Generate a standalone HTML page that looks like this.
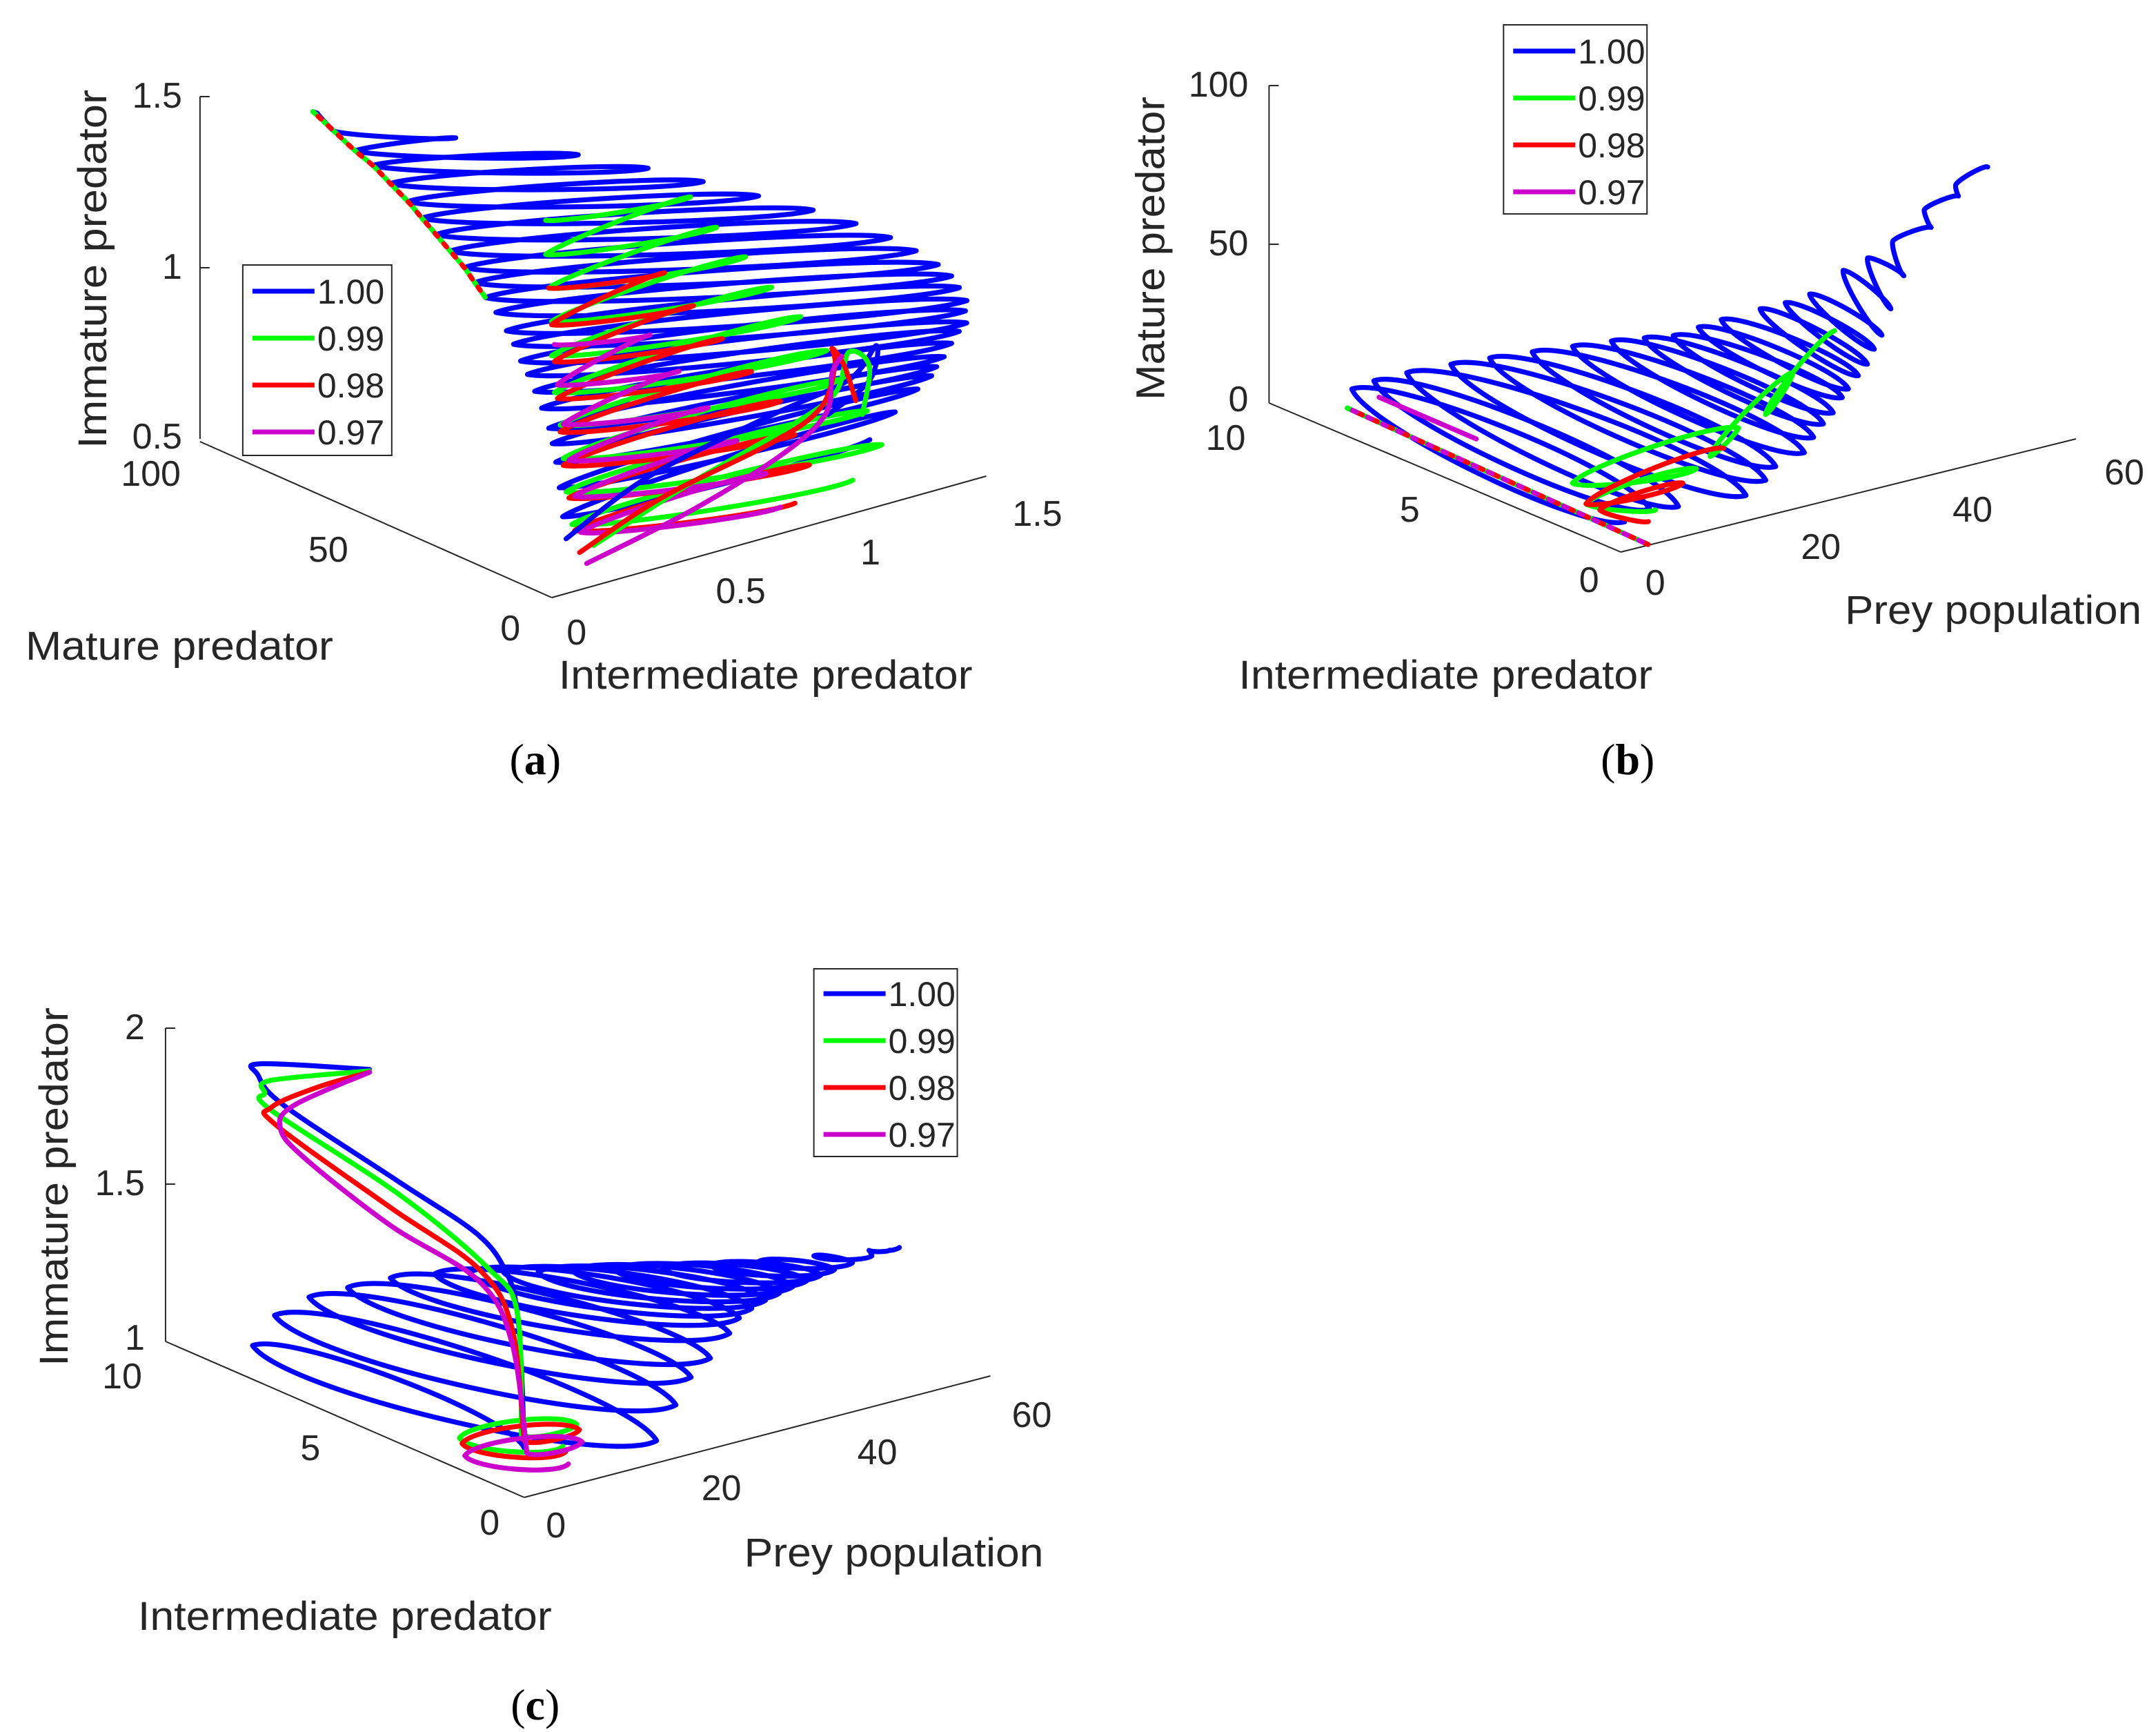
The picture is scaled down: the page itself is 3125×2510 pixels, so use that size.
<!DOCTYPE html>
<html><head><meta charset="utf-8"><style>
html,body{margin:0;padding:0;background:#fff}
svg{display:block}
text{font-family:"Liberation Sans",sans-serif;fill:#262626}
.t{font-size:26px}
.lg{font-size:25px}
.l{font-size:29px}
.c{font-family:"Liberation Serif",serif;font-size:32px;fill:#000}
</style></head><body>
<svg id="fig" xmlns="http://www.w3.org/2000/svg" width="3125" height="2510" viewBox="0 0 1563 1255" preserveAspectRatio="none">
<rect x="0" y="0" width="1563" height="1255" fill="#fff"/>
<g stroke="#262626" stroke-width="1" fill="none">
<line x1="145" y1="70" x2="145" y2="318"/><line x1="145" y1="70" x2="152" y2="70"/><line x1="145" y1="194" x2="152" y2="194"/>
<line x1="145" y1="320" x2="400" y2="433"/><line x1="400" y1="433" x2="715" y2="345"/>
</g>
<text class="t" x="132" y="78" text-anchor="end">1.5</text>
<text class="t" x="132" y="202" text-anchor="end">1</text>
<text class="t" x="132" y="325" text-anchor="end">0.5</text>
<text class="t" x="131" y="352" text-anchor="end">100</text>
<text class="t" x="238" y="407" text-anchor="middle">50</text>
<text class="t" x="370" y="464" text-anchor="middle">0</text>
<text class="t" x="418" y="467" text-anchor="middle">0</text>
<text class="t" x="537" y="437" text-anchor="middle">0.5</text>
<text class="t" x="631" y="409" text-anchor="middle">1</text>
<text class="t" x="752" y="381" text-anchor="middle">1.5</text>
<text class="l" transform="translate(77,195) rotate(-90)" text-anchor="middle" textLength="260" lengthAdjust="spacingAndGlyphs">Immature predator</text>
<text class="l" x="130" y="478" text-anchor="middle" textLength="223" lengthAdjust="spacingAndGlyphs">Mature predator</text>
<text class="l" x="555" y="499" text-anchor="middle" textLength="300" lengthAdjust="spacingAndGlyphs">Intermediate predator</text>
<text class="c" x="388" y="561" text-anchor="middle">(<tspan font-weight="bold">a</tspan>)</text>
<g stroke="#262626" stroke-width="1" fill="none">
<line x1="920" y1="62" x2="920" y2="292"/><line x1="920" y1="62" x2="927" y2="62"/><line x1="920" y1="177" x2="927" y2="177"/>
<line x1="920" y1="292" x2="1175" y2="400"/><line x1="1175" y1="400" x2="1505" y2="318"/>
</g>
<text class="t" x="905" y="70" text-anchor="end">100</text>
<text class="t" x="905" y="185" text-anchor="end">50</text>
<text class="t" x="905" y="298" text-anchor="end">0</text>
<text class="t" x="903" y="326" text-anchor="end">10</text>
<text class="t" x="1022" y="378" text-anchor="middle">5</text>
<text class="t" x="1152" y="429" text-anchor="middle">0</text>
<text class="t" x="1200" y="431" text-anchor="middle">0</text>
<text class="t" x="1320" y="405" text-anchor="middle">20</text>
<text class="t" x="1430" y="378" text-anchor="middle">40</text>
<text class="t" x="1540" y="351" text-anchor="middle">60</text>
<text class="l" transform="translate(844,180) rotate(-90)" text-anchor="middle" textLength="220" lengthAdjust="spacingAndGlyphs">Mature predator</text>
<text class="l" x="1048" y="499" text-anchor="middle" textLength="300" lengthAdjust="spacingAndGlyphs">Intermediate predator</text>
<text class="l" x="1445" y="452" text-anchor="middle" textLength="215" lengthAdjust="spacingAndGlyphs">Prey population</text>
<text class="c" x="1180" y="561" text-anchor="middle">(<tspan font-weight="bold">b</tspan>)</text>
<g stroke="#262626" stroke-width="1" fill="none">
<line x1="120" y1="745" x2="120" y2="972"/><line x1="120" y1="745" x2="127" y2="745"/><line x1="120" y1="858" x2="127" y2="858"/>
<line x1="120" y1="972" x2="380" y2="1085"/><line x1="380" y1="1085" x2="718" y2="997"/>
</g>
<text class="t" x="105" y="753" text-anchor="end">2</text>
<text class="t" x="105" y="866" text-anchor="end">1.5</text>
<text class="t" x="105" y="978" text-anchor="end">1</text>
<text class="t" x="103" y="1006" text-anchor="end">10</text>
<text class="t" x="225" y="1058" text-anchor="middle">5</text>
<text class="t" x="355" y="1112" text-anchor="middle">0</text>
<text class="t" x="403" y="1114" text-anchor="middle">0</text>
<text class="t" x="523" y="1087" text-anchor="middle">20</text>
<text class="t" x="636" y="1061" text-anchor="middle">40</text>
<text class="t" x="748" y="1034" text-anchor="middle">60</text>
<text class="l" transform="translate(49,860) rotate(-90)" text-anchor="middle" textLength="260" lengthAdjust="spacingAndGlyphs">Immature predator</text>
<text class="l" x="250" y="1181" text-anchor="middle" textLength="300" lengthAdjust="spacingAndGlyphs">Intermediate predator</text>
<text class="l" x="648" y="1135" text-anchor="middle" textLength="217" lengthAdjust="spacingAndGlyphs">Prey population</text>
<text class="c" x="388" y="1246" text-anchor="middle">(<tspan font-weight="bold">c</tspan>)</text>
<g id="marks"></g>
<g id="legends"></g>
</svg>
<script>
// ---------- Panel (a) data: (I = intermediate, M = mature, Z = immature) ----------
const aBlueM = [72,66,60,55,50,45,41,37,33,29,26,23,20,17,15,13,11,9,7,5,4,3,2,1];
const aBlueZ = [1.58,1.55,1.52,1.50,1.47,1.44,1.41,1.38,1.35,1.32,1.29,1.26,1.23,1.19,1.16,1.12,1.09,1.05,1.01,0.96,0.92,0.87,0.80,0.72];
const aBlueIhi = [0.065,0.47,0.82,1.0,1.13,1.26,1.40,1.50,1.57,1.61,1.65,1.66,1.65,1.64,1.61,1.59,1.54,1.49,1.44,1.39,1.36,1.30,1.21,1.11];
const aBlueZd = [-0.008,-0.119,-0.194,-0.233,-0.25,-0.27,-0.296,-0.311,-0.32,-0.32,-0.326,-0.318,-0.306,-0.288,-0.272,-0.253,-0.227,-0.201,-0.179,-0.137,-0.112,-0.082,-0.053,-0.026];
const aGreenIlo = [0.04,0.04,0.05,0.06,0.06,0.07,0.09,0.10,0.11,0.13];
const aGreenIhi = [0.54,0.63,0.73,0.82,0.92,1.01,1.08,1.15,1.2,1.1];
const aGreenZ = [1.57,1.47,1.37,1.27,1.17,1.06,0.96,0.86,0.76,0.66];
const aGreenZd = [-0.05,-0.06,-0.07,-0.08,-0.09,-0.1,-0.1,-0.11,-0.12,-0.1];
const aRedIlo = [0.05,0.06,0.07,0.08,0.09,0.1,0.12,0.14];
const aRedIhi = [0.45,0.55,0.65,0.75,0.85,0.9,0.95,0.9];
const aRedZ = [1.37,1.26,1.15,1.04,0.94,0.84,0.74,0.64];
const aRedZd = [-0.05,-0.06,-0.07,-0.08,-0.09,-0.1,-0.1,-0.1];
const aMagIlo = [0.07,0.08,0.1,0.12,0.14,0.16];
const aMagIhi = [0.4,0.5,0.6,0.7,0.8,0.85];
const aMagZ = [1.2,1.08,0.96,0.85,0.74,0.63];
const aMagZd = [-0.05,-0.06,-0.07,-0.08,-0.09,-0.09];
const aColoredM = 5;
const aSBlueI = [0.11,0.395,0.824,1.086,1.181,1.157,1.014];
const aSBlueZ = [0.623,0.737,0.817,0.856,0.934,0.837,0.772];
const aSGreenI = [0.205,0.538,0.871,1.038,1.086,1.157,1.133];
const aSGreenZ = [0.581,0.683,0.766,0.828,0.937,0.879,0.744];
const aSRedI = [0.157,0.443,0.824,0.99,1.038,1.029,1.071,1.11];
const aSRedZ = [0.572,0.665,0.736,0.798,0.908,0.962,0.90,0.79];
const aSMagI = [0.181,0.538,0.848,1.005,1.029,1.062];
const aSMagZ = [0.534,0.602,0.690,0.774,0.89,0.931];

// ---------- Panel (b) data: (P = prey, N = intermediate, Mt = mature), loops from near origin to start ----------
const bBlueAP = [10.9,11.5,13.5,17.0,19.8,23.1,26.1,28.9,30.9,32.4,33.4,34.1,36.9,37.9,38.8,40.9,41.8,44.2,46.5,49.7,53.0];
const bBlueAN = [10,9.5,9,8.5,8,7.5,7,6.5,6,5.5,5,4.5,4,3.5,3,2.5,2,1.8,1.4,1.2,1];
const bBlueAM = [-2.1,2.5,6.2,9.1,11.8,14.1,16.4,18.8,20.9,23.1,27.5,31.8,35.9,39.6,44.1,52.7,58.4,63.2,73.6,80.5,85.1];
const bBlueBP = [1.9,5.2,9.0,17.9,20.5,21.8,25.6,26.8,28.1,29.4,30.6,31.4,32.7,33.9,34.8,35.8,37.0,38.7,42.3,45.9,49.7];
const bBlueBN = [0.3,0.3,0.3,0.3,0.3,0.3,0.3,0.3,0.3,0.3,0.3,0.3,0.3,0.3,0.3,0.3,0.3,0.3,0.3,0.3,0.3];
const bBlueBM = [7.0,9.0,7.6,5.8,9.0,12.6,14.7,18.8,22.3,25.0,29.1,31.3,34.7,37.6,41.8,45.6,53.2,62.6,75.7,83.5,90.4];
const bGreenP = [30.5,21.4,25.0,14.1,17.8,2.9,12.3,4.7,6.9];
const bGreenN = [0.5,0.5,0.5,0.5,0.5,2,0.5,2,0.5];
const bGreenM = [49.2,28.3,39.4,19.4,26.2,10.6,16.6,3,6.8];
const bRedP = [15.9,4.7,10.5,6.5,5.96];
const bRedN = [0.5,2,0.5,2,0.5];
const bRedM = [20.9,3,13.1,0,3.7];
const bMagP = [14.5,13.4];
const bMagN = [10,7];
const bMagM = [-6.8,-5.2];
const bEdgeN = [9.5,0.3];
const bEdgeP = [8,5];
const bEdgeM = [-4,-2];

// ---------- Panel (c) data: (P = prey, N = intermediate, Z = immature) ----------
const cBlueAP = [0.5,0.5,0.5,0.5,0.5,0.5,0.5,0.5,4.08,8.52,13.85,20.06,26.27,32.49,39.59,46.69];
const cBlueAN = [7.68,7.07,6.11,5.03,3.84,2.61,1.65,0.68,0.5,0.5,0.5,0.5,0.5,0.5,0.5,0.5];
const cBlueAZ = [1.099,1.226,1.332,1.416,1.506,1.58,1.632,1.681,1.667,1.643,1.613,1.577,1.546,1.518,1.49,1.462];
const cBlueBP = [19.35,21.84,23.79,26.27,28.76,30.0,31.6,33.38,35.15,36.93,38.7,40.48,42.25,44.56,47.04,49.35];
const cBlueBN = [0.5,0.5,0.5,0.5,0.5,0.5,0.5,0.5,0.5,0.5,0.5,0.5,0.5,0.5,0.5,0.5];
const cBlueBZ = [1.031,1.129,1.205,1.25,1.313,1.354,1.374,1.389,1.40,1.41,1.417,1.423,1.429,1.436,1.442,1.445];
const cBlueEnd = [50.6,0.5,1.446];
const cCurlP = 0.5;
const cBlueCurlN = [4.42,7.45,7.53,6.8,3.57,1.38,0.57,0.3,0.18,0.11];
const cBlueCurlZ = [2.143,2.01,1.97,1.909,1.824,1.765,1.678,1.572,1.385,1.15];
const cGreenN = [4.42,7.18,7.34,7.18,3.57,1.11,0.3,0.18];
const cGreenZ = [2.138,1.97,1.922,1.877,1.784,1.673,1.572,1.186];
const cRedN = [4.42,5.88,7.15,7.03,3.84,1.38,0.45,0.11];
const cRedZ = [2.134,2.013,1.886,1.836,1.731,1.658,1.516,1.172];
const cMagN = [4.42,6.53,6.91,6.26,3.84,1.38,0.45,0.03];
const cMagZ = [2.134,1.923,1.833,1.771,1.674,1.62,1.468,1.137];
const legendLabels = ["1.00","0.99","0.98","0.97"];

// ---------- projections (axis functions) ----------
function projA(I,M,Z){return [400+210*I-2.55*M, 433-58.7*I-1.13*M-248*(Z-0.5)];}
function projB(P,N,Mt){return [1175+5.5*P-25.5*N, 400-1.367*P-10.8*N-2.3*Mt];}
function projC(P,N,Z){return [380+5.633*P-26*N, 1085-1.467*P-11.3*N-227*(Z-1)];}

const COL={blue:"#0000ff",green:"#00ff00",red:"#ff0000",mag:"#cc00cc"};
const NS="http://www.w3.org/2000/svg";
const marks=document.getElementById('marks');

function loopPath(pts,f){
  let d="M"+pts[0][0].toFixed(1)+" "+pts[0][1].toFixed(1);
  for(let i=1;i<pts.length;i++){
    const a=pts[i-1],b=pts[i];const dx=b[0]-a[0],dy=b[1]-a[1];
    const L=Math.hypot(dx,dy)||1;const nx=-dy/L,ny=dx/L;const w=L*f;
    const c1=[a[0]+dx*0.1+nx*w,a[1]+dy*0.1+ny*w],c2=[b[0]-dx*0.1+nx*w,b[1]-dy*0.1+ny*w];
    d+=" C"+c1[0].toFixed(1)+" "+c1[1].toFixed(1)+" "+c2[0].toFixed(1)+" "+c2[1].toFixed(1)+" "+b[0].toFixed(1)+" "+b[1].toFixed(1);
  }
  return d;
}
function smoothPath(p){
  let d="M"+p[0][0].toFixed(1)+" "+p[0][1].toFixed(1);
  for(let i=0;i<p.length-1;i++){
    const p0=p[Math.max(i-1,0)],p1=p[i],p2=p[i+1],p3=p[Math.min(i+2,p.length-1)];
    const c1=[p1[0]+(p2[0]-p0[0])/6,p1[1]+(p2[1]-p0[1])/6],c2=[p2[0]-(p3[0]-p1[0])/6,p2[1]-(p3[1]-p1[1])/6];
    d+=" C"+c1[0].toFixed(1)+" "+c1[1].toFixed(1)+" "+c2[0].toFixed(1)+" "+c2[1].toFixed(1)+" "+p2[0].toFixed(1)+" "+p2[1].toFixed(1);
  }
  return d;
}
function addPath(d,color,name,dash,off){
  const p=document.createElementNS(NS,'path');
  p.setAttribute('d',d);p.setAttribute('fill','none');p.setAttribute('stroke',color);
  p.setAttribute('stroke-width','3.6');p.setAttribute('stroke-linejoin','round');p.setAttribute('stroke-linecap','round');
  if(dash){p.setAttribute('stroke-dasharray',dash);p.setAttribute('stroke-dashoffset',off||0);}
  
  
  marks.appendChild(p);
}

// Panel a
(function(){
  let pts=[];
  for(let k=0;k<aBlueM.length;k++){pts.push(projA(0.05,aBlueM[k],aBlueZ[k]));pts.push(projA(aBlueIhi[k],aBlueM[k],aBlueZ[k]+aBlueZd[k]));}
  addPath(loopPath(pts,0.03),COL.blue,'a-trajectory-1.00');
  function col(lo,hi,Z,Zd,c,n){let q=[];for(let k=0;k<lo.length;k++){q.push(projA(lo[k],aColoredM,Z[k]));q.push(projA(hi[k],aColoredM,Z[k]+Zd[k]));}
    addPath(loopPath(q,0.035),c,n);}
  col(aGreenIlo,aGreenIhi,aGreenZ,aGreenZd,COL.green,'a-trajectory-0.99');
  col(aRedIlo,aRedIhi,aRedZ,aRedZd,COL.red,'a-trajectory-0.98');
  col(aMagIlo,aMagIhi,aMagZ,aMagZd,COL.mag,'a-trajectory-0.97');
  let sp=[];for(let k=0;k<12;k++)sp.push(projA(0.05,aBlueM[k],aBlueZ[k]));
  addPath(smoothPath(sp),COL.green,'a-spine-0.99','4 6',0);
  addPath(smoothPath(sp),COL.red,'a-spine-0.98','3 7',5);
  function s(I,Z,c,n){addPath(smoothPath(I.map((v,i)=>projA(v,aColoredM,Z[i]))),c,n);}
  s(aSBlueI,aSBlueZ,COL.blue,'a-return-1.00');
  s(aSGreenI,aSGreenZ,COL.green,'a-return-0.99');
  s(aSRedI,aSRedZ,COL.red,'a-return-0.98');
  s(aSMagI,aSMagZ,COL.mag,'a-return-0.97');
})();
// Panel b
(function(){
  let pts=[];
  for(let k=bBlueAP.length-1;k>=0;k--){pts.push(projB(bBlueAP[k],bBlueAN[k],bBlueAM[k]));pts.push(projB(bBlueBP[k],bBlueBN[k],bBlueBM[k]));}
  addPath(loopPath(pts,0.09),COL.blue,'b-trajectory-1.00');
  addPath(loopPath(bGreenP.map((v,i)=>projB(v,bGreenN[i],bGreenM[i])),0.07),COL.green,'b-trajectory-0.99');
  addPath(loopPath(bRedP.map((v,i)=>projB(v,bRedN[i],bRedM[i])),0.07),COL.red,'b-trajectory-0.98');
  const e=bEdgeN.map((v,i)=>projB(bEdgeP[i],v,bEdgeM[i]));
  const ed="M"+e[0][0]+" "+e[0][1]+" L"+e[1][0]+" "+e[1][1];
  addPath(ed,COL.blue,'b-edge-1.00');
  addPath(ed,COL.green,'b-edge-0.99','4 8',0);
  addPath(ed,COL.red,'b-edge-0.98','4 8',4);
  addPath(ed,COL.mag,'b-edge-0.97','3 9',8);
  const m=bMagP.map((v,i)=>projB(v,bMagN[i],bMagM[i]));
  addPath("M"+m[0][0]+" "+m[0][1]+" L"+m[1][0]+" "+m[1][1],COL.mag,'b-trajectory-0.97');
})();
// Panel c
(function(){
  let pts=cBlueCurlN.map((v,i)=>projC(cCurlP,v,cBlueCurlZ[i]));
  addPath(smoothPath(pts),COL.blue,'c-curl-1.00');
  let lp=[pts[pts.length-1]];
  for(let k=0;k<cBlueAP.length;k++){lp.push(projC(cBlueAP[k],cBlueAN[k],cBlueAZ[k]));lp.push(projC(cBlueBP[k],cBlueBN[k],cBlueBZ[k]));}
  lp.push(projC(cBlueEnd[0],cBlueEnd[1],cBlueEnd[2]));
  addPath(loopPath(lp,0.09),COL.blue,'c-trajectory-1.00');
  function s(N,Z,c,n){const q=N.map((v,i)=>projC(cCurlP,v,Z[i]));addPath(smoothPath(q),c,n);
    const b=q[q.length-1];addPath(loopPath([b,[b[0]+40,b[1]-8],[b[0]-45,b[1]+2],[b[0]+30,b[1]+8]],0.12),c,n+'-loops');}
  s(cGreenN,cGreenZ,COL.green,'c-trajectory-0.99');
  s(cRedN,cRedZ,COL.red,'c-trajectory-0.98');
  s(cMagN,cMagZ,COL.mag,'c-trajectory-0.97');
})();

// Legends
const lg=document.getElementById('legends');
const legendBoxes=[[176,192,108,138,211],[1090,18,104,137,37],[590,702,104,136,720]];
const legCols=[COL.blue,COL.green,COL.red,COL.mag];
legendBoxes.forEach((b,li)=>{
  const g=document.createElementNS(NS,'g');
  
  
  const r=document.createElementNS(NS,'rect');
  r.setAttribute('x',b[0]);r.setAttribute('y',b[1]);r.setAttribute('width',b[2]);r.setAttribute('height',b[3]);
  r.setAttribute('fill','#fff');r.setAttribute('stroke','#262626');r.setAttribute('stroke-width','1');
  
  
  g.appendChild(r);
  legendLabels.forEach((lab,i)=>{
    const y=b[4]+i*34;
    const l=document.createElementNS(NS,'line');
    l.setAttribute('x1',b[0]+7);l.setAttribute('x2',b[0]+52);l.setAttribute('y1',y);l.setAttribute('y2',y);
    l.setAttribute('stroke',legCols[i]);l.setAttribute('stroke-width','3.5');
    
    
    g.appendChild(l);
    const t=document.createElementNS(NS,'text');
    t.setAttribute('x',b[0]+54);t.setAttribute('y',y+9);t.setAttribute('class','lg');t.textContent=lab;
    
    
    g.appendChild(t);
  });
  lg.appendChild(g);
});
</script>
</body></html>
